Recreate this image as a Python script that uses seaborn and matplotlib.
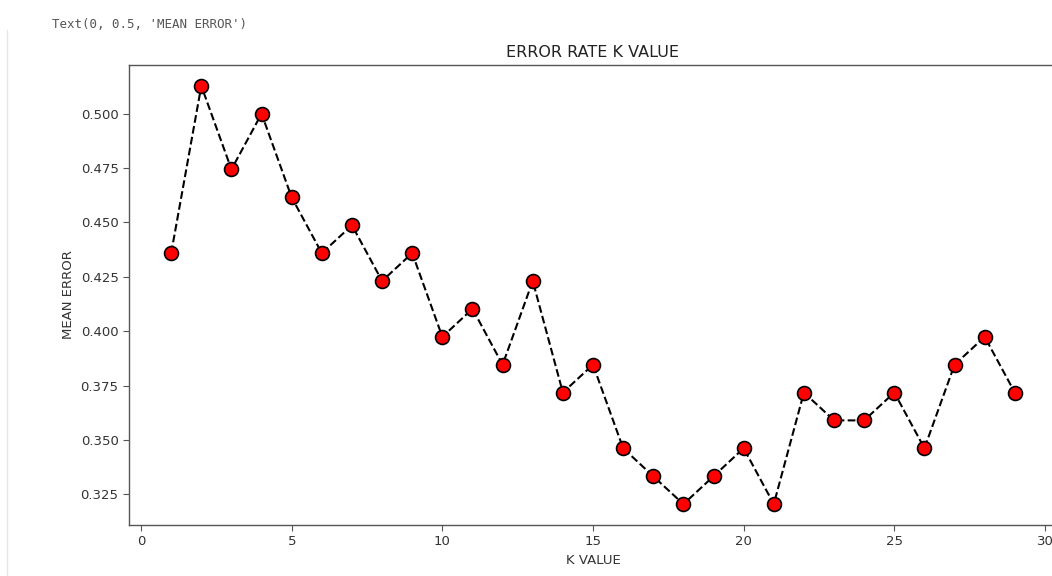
import pandas as pd
import matplotlib
matplotlib.use("Agg")
import matplotlib.pyplot as plt
import seaborn as sns
from matplotlib.lines import Line2D

# Data: mean error for each K value
k_values = list(range(1, 30))
mean_error = [
    0.4359, 0.5128, 0.4744, 0.5000, 0.4615, 0.4359, 0.4487, 0.4231, 0.4359,
    0.3974, 0.4103, 0.3846, 0.4231, 0.3718, 0.3846, 0.3462, 0.3333, 0.3205,
    0.3333, 0.3462, 0.3205, 0.3718, 0.3590, 0.3590, 0.3718, 0.3462, 0.3846,
    0.3974, 0.3718,
]

df = pd.DataFrame({"K": k_values, "Error": mean_error})

W, H = 1052, 576
fig = plt.figure(figsize=(W / 100, H / 100), dpi=100)

# axes placed in pixel terms; right spine runs past the cropped edge
left, right, top, bottom = 129, 1057, 65, 525
ax = fig.add_axes([left / W, 1 - bottom / H, (right - left) / W, (bottom - top) / H])

sns.lineplot(
    data=df, x="K", y="Error", ax=ax,
    color="black", linestyle="--", linewidth=1.5,
    marker="o", markerfacecolor="red", markeredgecolor="black",
    markeredgewidth=1.2, markersize=10,
)

ax.set_xlim(-0.4, 30.4)
ax.set_ylim(0.3109, 0.5224)
ax.set_xticks([0, 5, 10, 15, 20, 25, 30])
ax.set_yticks([0.325, 0.350, 0.375, 0.400, 0.425, 0.450, 0.475, 0.500])
ax.set_yticklabels([f"{v:.3f}" for v in ax.get_yticks()])

for s in ax.spines.values():
    s.set_color("#555555")
    s.set_linewidth(1.0)
ax.tick_params(colors="#555555", labelcolor="#333333", labelsize=9.5, length=4)

ax.set_title("ERROR RATE K VALUE", fontsize=11.5, color="#222222")
ax.set_xlabel("K VALUE", fontsize=9.5, color="#333333")
ax.set_ylabel("MEAN ERROR", fontsize=9.5, color="#333333")

# notebook output line above the figure
fig.text(52 / W, 1 - 24 / H, "Text(0, 0.5, 'MEAN ERROR')",
         family="DejaVu Sans Mono", fontsize=9, color="#555555", va="center")
# faint notebook cell border on the left
fig.add_artist(Line2D([7 / W, 7 / W], [0, 1 - 30 / H], color="#e6e6e6",
                      linewidth=1.0, transform=fig.transFigure))

fig.savefig("out.png", dpi=100)
